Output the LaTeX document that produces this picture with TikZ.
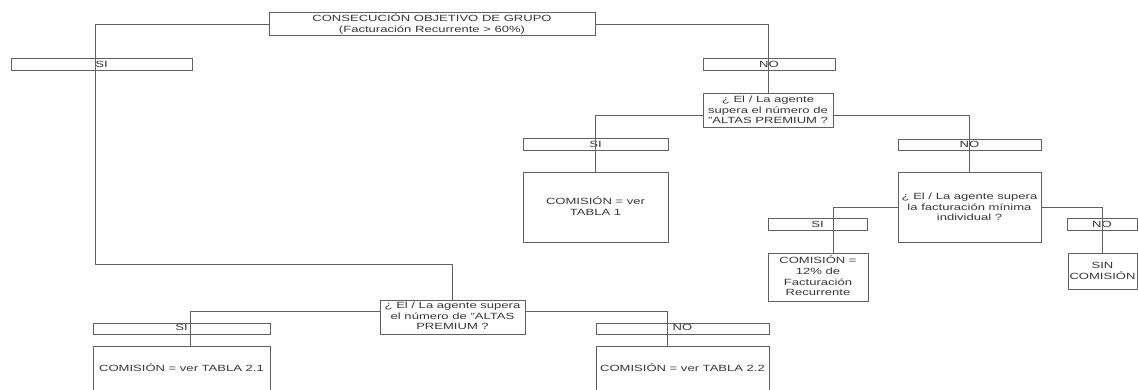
\documentclass[tikz,border=0pt]{standalone}
\usepackage{fontspec}
\setmainfont{Liberation Sans}
\usepackage{graphicx}
\newcommand{\wt}[1]{\scalebox{1.45}[1]{\begin{tabular}{@{}c@{}}#1\end{tabular}}}
\begin{document}
\begin{tikzpicture}[x=1pt,y=-1pt,
  box/.style 2 args={draw=black!62, line width=1pt, minimum width=#1, minimum height=#2,
    inner sep=0pt, font=\fontsize{9}{10.8}\selectfont, text=black!78},
  conn/.style={draw=black!62, line width=1pt}]
\useasboundingbox (0,0) rectangle (1138,390);
\fill[white] (0,0) rectangle (1138,390);
\clip (0,0) rectangle (1138,390);

% level 0
\node[box={326pt}{23pt}] (top) at (432,24.5) {\wt{CONSECUCIÓN OBJETIVO DE GRUPO\\(Facturación Recurrente > 60\%)}};

% left branch
\node[box={181pt}{12pt}] (si1) at (101.5,65) {\wt{SI}};
\node[box={145pt}{34pt}] (q3) at (452.5,317) {\wt{¿ El / La agente supera\\el número de "ALTAS\\PREMIUM ?}};
\node[box={177pt}{11pt}] (si4) at (181.5,328.5) {\wt{SI}};
\node[box={177pt}{46pt}] (t21) at (181.5,369) {\wt{COMISIÓN = ver TABLA 2.1}};
\node[box={173pt}{11pt}] (no4) at (682.5,328.5) {\wt{NO}};
\node[box={173pt}{46pt}] (t22) at (682.5,369) {\wt{COMISIÓN = ver TABLA 2.2}};

% right branch
\node[box={132pt}{12pt}] (no1) at (769,65) {\wt{NO}};
\node[box={130pt}{34pt}] (q1) at (768,111) {\wt{¿ El / La agente\\supera el número de\\"ALTAS PREMIUM ?}};
\node[box={145pt}{12pt}] (si2) at (595.5,145) {\wt{SI}};
\node[box={145pt}{70pt}] (t1) at (595.5,208) {\wt{COMISIÓN = ver\\TABLA 1}};
\node[box={143pt}{11pt}] (no2) at (969.5,145.5) {\wt{NO}};
\node[box={143pt}{70pt}] (q2) at (969.5,208) {\wt{¿ El / La agente supera\\la facturación mínima\\individual ?}};
\node[box={99pt}{12pt}] (si3) at (817.5,225) {\wt{SI}};
\node[box={100pt}{47pt}] (pct) at (818,277.5) {\wt{COMISIÓN =\\12\% de\\Facturación\\Recurrente}};
\node[box={70pt}{12pt}] (no3) at (1102,225) {\wt{NO}};
\node[box={69pt}{35pt}] (sin) at (1102.5,271.5) {\wt{SIN\\COMISIÓN}};

\coordinate (jl) at (95,264);

% connectors
\draw[conn] (top.west) -| (jl) -| (q3.north);
\draw[conn] (top.east) -| (q1.north);
\draw[conn] ([yshift=-5pt]q1.west) -| (t1.north);
\draw[conn] ([yshift=-5pt]q1.east) -| (q2.north);
\draw[conn] (q2.west) -| ([xshift=15pt]pct.north);
\draw[conn] (q2.east) -| (sin.north);
\draw[conn] ([yshift=6pt]q3.west) -| ([xshift=8.5pt]t21.north);
\draw[conn] ([yshift=6pt]q3.east) -| ([xshift=-15.5pt]t22.north);
\end{tikzpicture}
\end{document}
